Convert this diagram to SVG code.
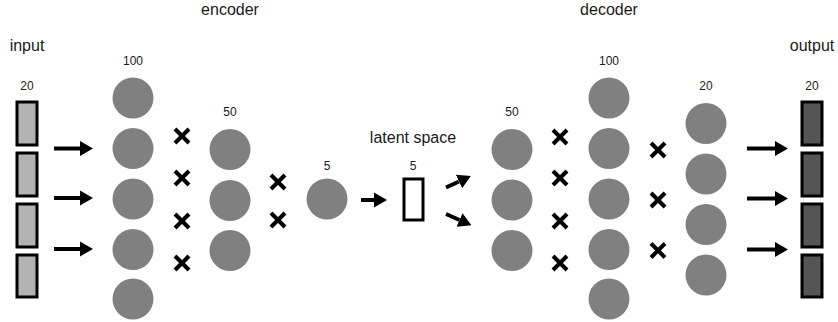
<svg xmlns="http://www.w3.org/2000/svg" width="838" height="322" viewBox="0 0 838 322">
  <style>
    .title { font-family: "Liberation Sans", Arial, sans-serif; font-size: 16px; fill: #1a1a1a; text-anchor: middle; }
    .count { font-family: "Liberation Sans", Arial, sans-serif; font-size: 12px; fill: #1a1a1a; text-anchor: middle; }
    .unit { fill: #808080; }
    .in-cell { fill: #b3b3b3; stroke: #000; stroke-width: 3; }
    .out-cell { fill: #555555; stroke: #000; stroke-width: 3; }
    .latent-cell { fill: #ffffff; stroke: #000; stroke-width: 3; }
    .cross { stroke: #000; stroke-width: 4; }
    .arrow { stroke: #000; stroke-width: 4; fill: none; marker-end: url(#head); }
  </style>
  <defs>
    <marker id="head" markerUnits="userSpaceOnUse" markerWidth="14" markerHeight="16" refX="0" refY="8" orient="auto">
      <path d="M0,0.5 L13,8 L0,15.5 Z" fill="#000"/>
    </marker>
    <g id="x">
      <line class="cross" x1="-7" y1="-7" x2="7" y2="7"/>
      <line class="cross" x1="-7" y1="7" x2="7" y2="-7"/>
    </g>
  </defs>

  <rect width="838" height="322" fill="#ffffff"/>

  <!-- section titles -->
  <text class="title" x="230" y="15">encoder</text>
  <text class="title" x="609" y="15">decoder</text>

  <!-- input vector -->
  <g id="input">
    <text class="title" x="27" y="51">input</text>
    <text class="count" x="27" y="90">20</text>
    <rect class="in-cell" x="17" y="102" width="20" height="43"/>
    <rect class="in-cell" x="17" y="153" width="20" height="43"/>
    <rect class="in-cell" x="17" y="204" width="20" height="43"/>
    <rect class="in-cell" x="17" y="255" width="20" height="42"/>
  </g>

  <!-- encoder layer, 100 units -->
  <g id="enc100">
    <text class="count" x="133" y="65">100</text>
    <circle class="unit" cx="133" cy="98" r="20.5"/>
    <circle class="unit" cx="133" cy="148.5" r="20.5"/>
    <circle class="unit" cx="133" cy="199" r="20.5"/>
    <circle class="unit" cx="133" cy="249.5" r="20.5"/>
    <circle class="unit" cx="133" cy="299" r="20.5"/>
  </g>

  <!-- encoder layer, 50 units -->
  <g id="enc50">
    <text class="count" x="230" y="116">50</text>
    <circle class="unit" cx="230" cy="149.5" r="20.5"/>
    <circle class="unit" cx="230" cy="200.5" r="20.5"/>
    <circle class="unit" cx="230" cy="250.5" r="20.5"/>
  </g>

  <!-- encoder layer, 5 units -->
  <g id="enc5">
    <text class="count" x="327" y="170">5</text>
    <circle class="unit" cx="327" cy="199" r="20.5"/>
  </g>

  <!-- latent space -->
  <g id="latent">
    <text class="title" x="413" y="143">latent space</text>
    <text class="count" x="413" y="170">5</text>
    <rect class="latent-cell" x="404" y="179" width="19" height="41"/>
  </g>

  <!-- decoder layer, 50 units -->
  <g id="dec50">
    <text class="count" x="512" y="116">50</text>
    <circle class="unit" cx="512" cy="149.5" r="20.5"/>
    <circle class="unit" cx="512" cy="200" r="20.5"/>
    <circle class="unit" cx="512" cy="250.5" r="20.5"/>
  </g>

  <!-- decoder layer, 100 units -->
  <g id="dec100">
    <text class="count" x="609" y="65">100</text>
    <circle class="unit" cx="609" cy="98" r="20.5"/>
    <circle class="unit" cx="609" cy="148.5" r="20.5"/>
    <circle class="unit" cx="609" cy="199" r="20.5"/>
    <circle class="unit" cx="609" cy="249.5" r="20.5"/>
    <circle class="unit" cx="609" cy="299" r="20.5"/>
  </g>

  <!-- decoder layer, 20 units -->
  <g id="dec20">
    <text class="count" x="706" y="90">20</text>
    <circle class="unit" cx="706" cy="123.5" r="20.5"/>
    <circle class="unit" cx="706" cy="174" r="20.5"/>
    <circle class="unit" cx="706" cy="224.5" r="20.5"/>
    <circle class="unit" cx="706" cy="275" r="20.5"/>
  </g>

  <!-- output vector -->
  <g id="output">
    <text class="title" x="812" y="51">output</text>
    <text class="count" x="812" y="90">20</text>
    <rect class="out-cell" x="802" y="102" width="20" height="43"/>
    <rect class="out-cell" x="802" y="153" width="20" height="43"/>
    <rect class="out-cell" x="802" y="204" width="20" height="43"/>
    <rect class="out-cell" x="802" y="255" width="20" height="42"/>
  </g>

  <!-- connectors: arrows and fully-connected crosses -->
  <g id="connectors">
    <line class="arrow" x1="54" y1="148.5" x2="80" y2="148.5"/>
    <line class="arrow" x1="54" y1="198" x2="80" y2="198"/>
    <line class="arrow" x1="54" y1="249" x2="80" y2="249"/>

    <use href="#x" x="182" y="136"/>
    <use href="#x" x="182" y="178"/>
    <use href="#x" x="182" y="221"/>
    <use href="#x" x="182" y="263"/>

    <use href="#x" x="278" y="182"/>
    <use href="#x" x="278" y="220"/>

    <line class="arrow" x1="361" y1="200" x2="374" y2="200"/>

    <line class="arrow" x1="446" y1="187.5" x2="459" y2="181.5"/>
    <line class="arrow" x1="446" y1="214" x2="459.5" y2="220"/>

    <use href="#x" x="560" y="137"/>
    <use href="#x" x="560" y="178"/>
    <use href="#x" x="560" y="221"/>
    <use href="#x" x="560" y="263"/>

    <use href="#x" x="658" y="150"/>
    <use href="#x" x="658" y="200"/>
    <use href="#x" x="658" y="250.5"/>

    <line class="arrow" x1="747" y1="148.5" x2="775" y2="148.5"/>
    <line class="arrow" x1="747" y1="198.5" x2="775" y2="198.5"/>
    <line class="arrow" x1="747" y1="249.5" x2="775" y2="249.5"/>
  </g>
</svg>
